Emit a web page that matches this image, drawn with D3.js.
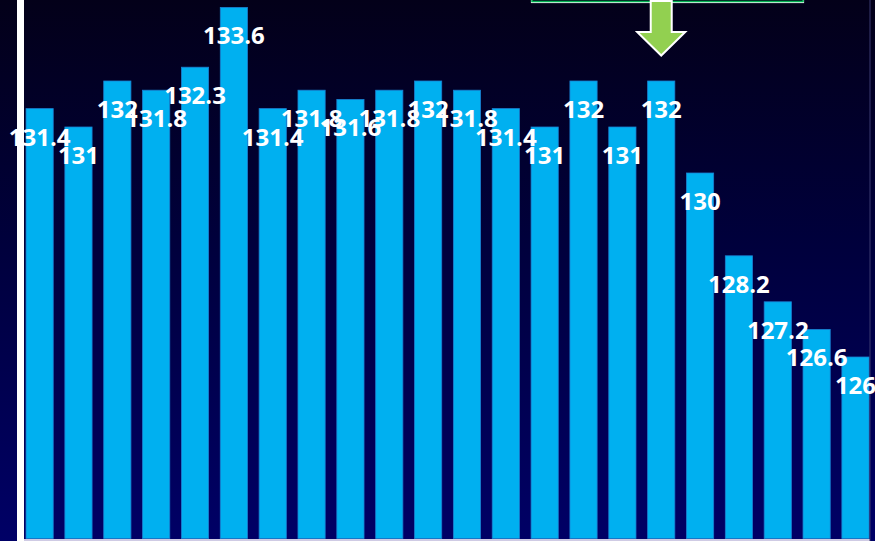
<!DOCTYPE html>
<html>
<head>
<meta charset="utf-8">
<script src="https://cdn.jsdelivr.net/npm/d3@7"></script>
<style>
  html, body { margin: 0; padding: 0; background: #000030; }
  svg { display: block; }
</style>
</head>
<body>
<script>
let width = 875
let height = 541

// one bar per period
const categories = d3.range(1, 23).map(String)
const values = [131.4, 131, 132, 131.8, 132.3, 133.6, 131.4, 131.8, 131.6, 131.8, 132,
  131.8, 131.4, 131, 132, 131, 132, 130, 128.2, 127.2, 126.6, 126]
const markedIndex = 16 // bar the green arrow points at

const svg = d3.select("body")
  .append("svg")
  .attr("width", width)
  .attr("height", height)

// background gradient
const defs = svg.append("defs")
const grad = defs.append("linearGradient")
  .attr("id", "bg")
  .attr("x1", 0).attr("y1", 0).attr("x2", 0).attr("y2", 1)
grad.append("stop").attr("offset", "0%").attr("stop-color", "#030019")
grad.append("stop").attr("offset", "45%").attr("stop-color", "#00003c")
grad.append("stop").attr("offset", "100%").attr("stop-color", "#000066")

svg.append("rect")
  .attr("width", width)
  .attr("height", height)
  .attr("fill", "url(#bg)")

// light strip at the very bottom under the bars
svg.append("rect")
  .attr("x", 24).attr("y", 539)
  .attr("width", 846).attr("height", 2)
  .attr("fill", "#cfcbe4")

// scales
var x = d3.scaleBand()
  .domain(categories)
  .range([20.2, 874.9])
  .paddingInner(0.3)
  .paddingOuter(0.15)

var y = d3.scaleLinear()
  .domain([122, 134])
  .range([541, -11])

// bars
svg.append("g")
  .selectAll("rect")
  .data(values)
  .join("rect")
  .attr("x", (d, i) => x(categories[i]))
  .attr("y", d => y(d))
  .attr("width", x.bandwidth())
  .attr("height", d => y(122) - 2.5 - y(d))
  .attr("fill", "#00b0f0")
  .attr("stroke", "#1a7fd0")
  .attr("stroke-width", 0.8)

// white vertical axis line
svg.append("rect")
  .attr("x", 17).attr("y", 0)
  .attr("width", 7).attr("height", height)
  .attr("fill", "#ffffff")

// thin edge on the right
svg.append("line")
  .attr("x1", 870).attr("x2", 870)
  .attr("y1", 0).attr("y2", height)
  .attr("stroke", "#3b3b70")
  .attr("stroke-width", 1)

// value labels
svg.append("g")
  .selectAll("text")
  .data(values)
  .join("text")
  .attr("x", (d, i) => x(categories[i]) + x.bandwidth() / 2)
  .attr("y", d => y(d) + 37)
  .attr("text-anchor", "middle")
  .attr("font-family", "'Open Sans', 'Noto Sans', sans-serif")
  .attr("font-weight", "bold")
  .attr("font-size", 24)
  .attr("fill", "#ffffff")
  .text(d => String(d))

// box clipped at the top edge
svg.append("rect")
  .attr("x", 531.5).attr("y", -20)
  .attr("width", 272).attr("height", 22.5)
  .attr("fill", "none")
  .attr("stroke", "#ffffff")
  .attr("stroke-width", 1.2)
svg.append("rect")
  .attr("x", 532).attr("y", -20)
  .attr("width", 271).attr("height", 21.5)
  .attr("fill", "none")
  .attr("stroke", "#00b050")
  .attr("stroke-width", 1.6)

// down arrow pointing at the marked bar
const cx = x(categories[markedIndex]) + x.bandwidth() / 2
const arrow = [
  [cx - 10.5, 1], [cx + 10.5, 1], [cx + 10.5, 32], [cx + 24, 32],
  [cx, 55.5], [cx - 24, 32], [cx - 10.5, 32]
]
svg.append("path")
  .attr("d", d3.line()(arrow) + "Z")
  .attr("fill", "#92d050")
  .attr("stroke", "#ffffff")
  .attr("stroke-width", 2)
  .attr("stroke-linejoin", "miter")
</script>
</body>
</html>
